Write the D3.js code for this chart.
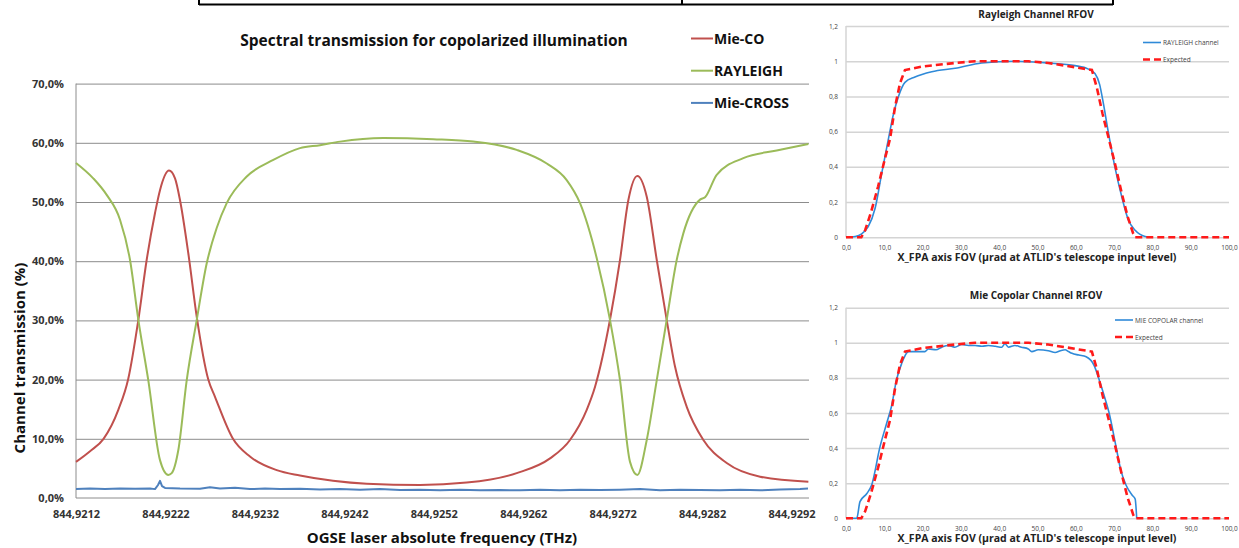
<!DOCTYPE html>
<html>
<head>
<meta charset="utf-8">
<script src="https://cdn.jsdelivr.net/npm/d3@7"></script>
<style>
  body { margin: 0; background: #fff; }
  svg { display: block; font-family: "Open Sans", "DejaVu Sans", sans-serif; }
</style>
</head>
<body>
<svg id="chart" width="1239" height="548"></svg>
<script>
// ---- main chart data : [frequency THz, transmission %]
var mieCo = [
  [844.921200, 6.1], [844.921357, 7.9], [844.921508, 10.0], [844.921673, 14.9],
  [844.921785, 20.2], [844.921897, 30.1], [844.921990, 40.2], [844.922083, 48.1],
  [844.922139, 52.0], [844.922240, 55.3], [844.922307, 54.0], [844.922363, 50.3],
  [844.922456, 41.3], [844.922550, 30.6], [844.922679, 20.0], [844.922754, 17.1],
  [844.922955, 10.0], [844.923145, 7.0], [844.923444, 4.7], [844.923704, 3.8],
  [844.924073, 2.9], [844.924450, 2.4], [844.925046, 2.2], [844.925568, 2.6],
  [844.926127, 4.2], [844.926500, 6.7], [844.926723, 9.8], [844.926910, 14.9],
  [844.927003, 18.8], [844.927170, 30.1], [844.927282, 40.2], [844.927375, 50.3],
  [844.927476, 54.4], [844.927581, 50.9], [844.927693, 40.2], [844.927804, 30.1],
  [844.927897, 22.2], [844.928028, 15.4], [844.928214, 9.8], [844.928475, 5.9],
  [844.928848, 3.6], [844.929388, 2.75]
];
var rayleigh = [
  [844.921200, 56.6], [844.921393, 54.0], [844.921543, 51.2], [844.921692, 47.0],
  [844.921804, 40.2], [844.921897, 30.1], [844.922008, 19.9], [844.922139, 6.4],
  [844.922232, 3.9], [844.922270, 4.2], [844.922344, 8.1], [844.922438, 19.9],
  [844.922550, 30.1], [844.922661, 39.6], [844.922773, 45.6], [844.922885, 49.8],
  [844.923109, 54.3], [844.923406, 57.1], [844.923704, 59.1], [844.923928, 59.6],
  [844.924152, 60.2], [844.924636, 60.8], [844.925195, 60.6], [844.925642, 60.2],
  [844.926127, 58.8], [844.926463, 56.5], [844.926686, 53.7], [844.926835, 49.8],
  [844.927022, 40.5], [844.927170, 30.1], [844.927282, 19.9], [844.927394, 6.1],
  [844.927476, 3.9], [844.927581, 9.8], [844.927693, 19.9], [844.927804, 30.1],
  [844.927916, 40.2], [844.927990, 44.7], [844.928177, 50.4], [844.928233, 50.8],
  [844.928363, 54.6], [844.928661, 57.4], [844.929034, 58.7], [844.929388, 59.8]
];
var mieCross = [
  [844.921200, 1.5], [844.921357, 1.6], [844.921524, 1.5], [844.921692, 1.6],
  [844.921860, 1.55], [844.922027, 1.6], [844.922083, 1.5], [844.922117, 2.2],
  [844.922139, 2.9], [844.922162, 2.0], [844.922195, 1.7], [844.922363, 1.6],
  [844.922586, 1.55], [844.922698, 1.8], [844.922810, 1.6], [844.922978, 1.75],
  [844.923145, 1.5], [844.923313, 1.6], [844.923481, 1.5], [844.923704, 1.55],
  [844.923928, 1.45], [844.924152, 1.5], [844.924375, 1.4], [844.924599, 1.5],
  [844.924823, 1.35], [844.925046, 1.4], [844.925270, 1.3], [844.925493, 1.4],
  [844.925717, 1.3], [844.925941, 1.35], [844.926164, 1.3], [844.926388, 1.4],
  [844.926611, 1.3], [844.926835, 1.4], [844.927059, 1.35], [844.927282, 1.4],
  [844.927506, 1.5], [844.927730, 1.3], [844.927953, 1.4], [844.928177, 1.35],
  [844.928400, 1.3], [844.928624, 1.4], [844.928848, 1.3], [844.929071, 1.45],
  [844.929295, 1.5], [844.929384, 1.6]
];
var freqTicks = [844.9212, 844.9222, 844.9232, 844.9242, 844.9252, 844.9262, 844.9272, 844.9282, 844.9292];
var pctTicks = [0, 10, 20, 30, 40, 50, 60, 70];
var mainSeries = ["Mie-CO", "RAYLEIGH", "Mie-CROSS"];

// ---- RFOV charts data : [FOV urad, normalised response]
var rayleighRfov = [
  [0, 0], [2.4, 0.005], [4.1, 0.02], [5.8, 0.06], [7.6, 0.165], [9.3, 0.36],
  [11.0, 0.55], [12.5, 0.71], [13.7, 0.80], [15.4, 0.88], [18.0, 0.91], [22.4, 0.94],
  [28.5, 0.96], [35.4, 0.99], [44.1, 1.0], [52.8, 0.99], [59.8, 0.975], [63.3, 0.955],
  [65.0, 0.93], [66.2, 0.87], [67.2, 0.76], [68.3, 0.62], [70.2, 0.40], [72.0, 0.23],
  [73.7, 0.10], [75.5, 0.04], [78.1, 0.005], [80, 0]
];
var mieRfov = [
  [0, 0], [2.8, 0], [3.65, 0.095], [5.4, 0.14], [6.7, 0.19], [8.9, 0.41], [10.6, 0.54],
  [11.9, 0.64], [13.2, 0.79], [14.5, 0.88], [16.3, 0.95], [18.5, 0.95], [20.6, 0.95],
  [21.5, 0.965], [23.5, 0.96], [25, 0.975], [26.7, 0.985], [28.4, 0.975], [30.2, 0.99],
  [32, 0.985], [33.7, 0.985], [35.5, 0.98], [37.2, 0.985], [39, 0.98], [40.7, 0.975],
  [41.5, 0.995], [42.4, 0.975], [44.1, 0.985], [45.8, 0.975], [47.6, 0.965], [48.5, 0.95],
  [50.2, 0.96], [52.8, 0.955], [54.6, 0.945], [56, 0.955], [57.2, 0.96], [58.1, 0.95],
  [59, 0.94], [60.8, 0.93], [62.7, 0.92], [64.8, 0.87], [66.1, 0.79], [67.8, 0.67],
  [68.7, 0.60], [70.4, 0.42], [71.8, 0.27], [73.1, 0.19], [74.8, 0.13], [75.5, 0.11],
  [75.9, 0]
];
var expectedRfov = [
  [0, 0], [4.0, 0], [5.0, 0.04], [6.5, 0.14], [8.4, 0.29], [10.2, 0.45], [11.5, 0.56],
  [12.8, 0.74], [14.1, 0.875], [15.4, 0.95], [20, 0.97], [28.5, 0.99], [33.7, 1.0],
  [47.6, 1.0], [52.8, 0.99], [57.2, 0.975], [64.2, 0.95], [65.5, 0.85], [67, 0.70],
  [68.5, 0.57], [70.2, 0.42], [72.0, 0.25], [73.5, 0.12], [75.0, 0.02], [75.5, 0],
  [80, 0], [90, 0], [100, 0]
];
var fovTicks = [0, 10, 20, 30, 40, 50, 60, 70, 80, 90, 100];
var respTicks = [0, 0.2, 0.4, 0.6, 0.8, 1, 1.2];

var svg = d3.select("#chart");
var comma = function(s){ return s.replace(".", ","); };

// ---- fragment of the table above
var tbl = svg.append("g").attr("stroke", "#000").attr("stroke-width", 2);
tbl.append("line").attr("x1", 199).attr("x2", 1113).attr("y1", 4.5).attr("y2", 4.5);
[199, 682, 1113].forEach(function(xv){
  tbl.append("line").attr("x1", xv).attr("x2", xv).attr("y1", 0).attr("y2", 5);
});

// ================= main chart =================
var x = d3.scaleLinear().domain([844.9212, 844.929395]).range([76, 809]);
var y = d3.scaleLinear().domain([0, 70]).range([498, 83.6]);
var colors = d3.scaleOrdinal().domain(mainSeries).range(["#C0504D", "#9BBB59", "#4F81BD"]);

var main = svg.append("g");

// gridlines
main.append("g")
  .attr("transform", "translate(76,0)")
  .call(d3.axisLeft(y).tickValues(pctTicks.slice(1)).tickSize(-(809 - 76)).tickFormat(""))
  .call(function(g){
    g.select(".domain").remove();
    g.selectAll("line").attr("stroke", "#8c8c8c").attr("stroke-width", 1);
  });

// axis lines
main.append("line").attr("x1", 76).attr("x2", 76).attr("y1", y(70)).attr("y2", y(0))
  .attr("stroke", "#8c8c8c");
main.append("line").attr("x1", 76).attr("x2", 809).attr("y1", y(0)).attr("y2", y(0))
  .attr("stroke", "#8c8c8c");

// y tick labels
main.append("g")
  .attr("transform", "translate(76,0)")
  .call(d3.axisLeft(y).tickValues(pctTicks).tickSize(0).tickPadding(12)
    .tickFormat(function(d){ return comma(d.toFixed(1)) + "%"; }))
  .call(function(g){
    g.select(".domain").remove();
    g.selectAll("text").attr("font-size", 11).attr("font-weight", "bold")
      .attr("fill", "#333").attr("font-family", "'Open Sans', sans-serif");
  });

// x tick labels
main.append("g")
  .attr("transform", "translate(0," + y(0) + ")")
  .call(d3.axisBottom(x).tickValues(freqTicks).tickSize(0).tickPadding(12)
    .tickFormat(function(d){ return comma(d.toFixed(4)); }))
  .call(function(g){
    g.select(".domain").remove();
    g.selectAll("text").attr("font-size", 11).attr("font-weight", "bold")
      .attr("fill", "#333").attr("font-family", "'Open Sans', sans-serif");
  });

var line = d3.line()
  .x(function(d){ return x(d[0]); })
  .y(function(d){ return y(d[1]); });

var mainData = [mieCross, mieCo, rayleigh];
var mainNames = ["Mie-CROSS", "Mie-CO", "RAYLEIGH"];
mainData.forEach(function(s, i){
  main.append("path")
    .datum(s)
    .attr("fill", "none")
    .attr("stroke", colors(mainNames[i]))
    .attr("stroke-width", 2)
    .attr("stroke-linejoin", "round")
    .attr("d", line.curve(i == 0 ? d3.curveLinear : d3.curveMonotoneX));
});

// title
main.append("text")
  .attr("x", 434).attr("y", 46)
  .attr("text-anchor", "middle")
  .attr("font-size", 15.5).attr("font-weight", "bold").attr("fill", "#111")
  .text("Spectral transmission for copolarized illumination");

// legend
mainSeries.forEach(function(name, i){
  var ly = 38.5 + i * 32.2;
  main.append("line").attr("x1", 691).attr("x2", 713).attr("y1", ly).attr("y2", ly)
    .attr("stroke", colors(name)).attr("stroke-width", 2);
  main.append("text").attr("x", 714).attr("y", ly + 5)
    .attr("font-size", 14).attr("font-weight", "bold").attr("fill", "#111")
    .text(name);
});

// axis titles
main.append("text")
  .attr("x", 442).attr("y", 543)
  .attr("text-anchor", "middle")
  .attr("font-size", 15).attr("font-weight", "bold").attr("fill", "#111")
  .text("OGSE laser absolute frequency (THz)");

main.append("text")
  .attr("transform", "translate(25,358) rotate(-90)")
  .attr("text-anchor", "middle")
  .attr("font-size", 15).attr("font-weight", "bold").attr("fill", "#111")
  .text("Channel transmission (%)");

// ================= RFOV charts =================
function rfovChart(top, bottom, title, titleY, measured, legendName, legendY, legendX){
  var g = svg.append("g");
  var xs = d3.scaleLinear().domain([0, 100]).range([846, 1229]);
  var ys = d3.scaleLinear().domain([0, 1.2]).range([bottom, top]);

  g.append("g")
    .attr("transform", "translate(846,0)")
    .call(d3.axisLeft(ys).tickValues(respTicks).tickSize(-(1229 - 846)).tickPadding(8)
      .tickFormat(function(d){ return (d == 0 || d == 1) ? String(d) : comma(d.toFixed(1)); }))
    .call(function(a){
      a.select(".domain").remove();
      a.selectAll("line").attr("stroke", "#d4d4d4").attr("stroke-width", 1.5);
      a.selectAll("text").attr("font-size", 6.5).attr("fill", "#444")
        .attr("font-family", "'Open Sans', sans-serif");
    });

  g.append("line").attr("x1", 846).attr("x2", 846).attr("y1", top).attr("y2", bottom)
    .attr("stroke", "#d4d4d4").attr("stroke-width", 1.5);

  g.append("g")
    .attr("transform", "translate(0," + bottom + ")")
    .call(d3.axisBottom(xs).tickValues(fovTicks).tickSize(0).tickPadding(8)
      .tickFormat(function(d){ return comma(d.toFixed(1)); }))
    .call(function(a){
      a.select(".domain").remove();
      a.selectAll("text").attr("font-size", 6.5).attr("fill", "#444")
        .attr("font-family", "'Open Sans', sans-serif");
    });

  var ln = d3.line()
    .x(function(d){ return xs(d[0]); })
    .y(function(d){ return ys(d[1]); })
    .curve(d3.curveMonotoneX);

  g.append("path").datum(measured)
    .attr("fill", "none").attr("stroke", "#2f8ad8").attr("stroke-width", 1.6)
    .attr("stroke-linejoin", "round").attr("d", ln);

  g.append("path").datum(expectedRfov)
    .attr("fill", "none").attr("stroke", "#ff1a1a").attr("stroke-width", 2.6)
    .attr("stroke-dasharray", "7,4").attr("d", ln.curve(d3.curveLinear));

  g.append("text")
    .attr("x", 1036).attr("y", titleY)
    .attr("text-anchor", "middle")
    .attr("font-size", 10).attr("font-weight", "bold").attr("fill", "#222")
    .text(title);

  g.append("text")
    .attr("x", 1037).attr("y", bottom + 24)
    .attr("text-anchor", "middle")
    .attr("font-size", 10.5).attr("font-weight", "bold").attr("fill", "#222")
    .text("X_FPA axis FOV (µrad at ATLID's telescope input level)");

  // legend
  g.append("line").attr("x1", legendX).attr("x2", legendX + 18)
    .attr("y1", legendY).attr("y2", legendY)
    .attr("stroke", "#2f8ad8").attr("stroke-width", 1.6);
  g.append("text").attr("x", legendX + 20).attr("y", legendY + 2.5)
    .attr("font-size", 6.5).attr("fill", "#444").text(legendName);
  g.append("line").attr("x1", legendX).attr("x2", legendX + 18)
    .attr("y1", legendY + 17).attr("y2", legendY + 17)
    .attr("stroke", "#ff1a1a").attr("stroke-width", 2.6).attr("stroke-dasharray", "7,4");
  g.append("text").attr("x", legendX + 20).attr("y", legendY + 19.5)
    .attr("font-size", 6.5).attr("fill", "#444").text("Expected");
}

rfovChart(26, 237.3, "Rayleigh Channel RFOV", 18, rayleighRfov, "RAYLEIGH channel", 42.5, 1143);
rfovChart(307.7, 518.3, "Mie Copolar Channel RFOV", 299, mieRfov, "MIE COPOLAR channel", 320, 1115);
</script>
</body>
</html>
